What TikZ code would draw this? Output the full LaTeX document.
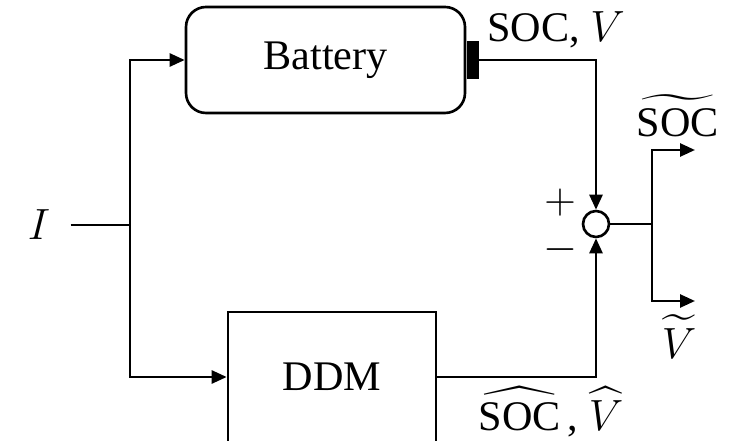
\documentclass[tikz,border=0pt]{standalone}
\usepackage{amsmath}
\usepackage{yhmath}
\usepackage{fontspec}
\setmainfont{Liberation Serif}
\usetikzlibrary{shapes.geometric, arrows.meta}
\tikzstyle{cell} = [
    rectangle,
    rounded corners=0.4cm,
    minimum width=5.58cm,
    minimum height=2.12cm,
    line width=1.5pt,
    draw=black
]
\tikzstyle{block} = [
    rectangle,
    minimum width=4.16cm,
    minimum height=2.6cm,
    line width=1.5pt,
    draw=black
]
\tikzstyle{pole} = [
    rectangle,
    fill=black,
    minimum width=0.24cm,
    minimum height=0.76cm,
    inner sep=0pt
]
\tikzstyle{junction} = [
    circle,
    minimum size=0.52cm,
    inner sep=0pt,
    line width=1.5pt,
    draw=black
]
\tikzstyle{sig} = [inner sep=0pt]
\tikzstyle{wire} = [line width=1.5pt]
\tikzstyle{arrow} = [line width=1.5pt,-{Triangle[length=0.3cm,width=0.26cm]}]

\begin{document}
\begin{tikzpicture}[every node/.style={font=\fontsize{24}{28}\selectfont}]
\useasboundingbox (0,0) rectangle (14.66,8.8);

\node (battery) [cell] at (6.51,7.6) {Battery};

\node (terminal) [pole, anchor=west] at (battery.east) {};

\node (ddm) [block] at (6.64,1.26) {DDM};

\node (sum) [junction] at (11.92,4.32) {};

\node (input) [sig] at (0.78,4.3) {$I$};

\node (measured) [sig, anchor=west] at (9.74,8.2) {SOC, $V$};
\node (estimated) [sig] at (11.02,0.56) {$\widehat{\mathrm{SOC}}\,$, $\widehat{V}$};
\node (errsoc) [sig] at (13.56,6.5) {$\widetilde{\mathrm{SOC}}$};
\node (errv) [sig] at (13.58,2.06) {$\widetilde{V}$};
\node (plus) [sig] at (11.2,4.74) {$+$};
\node (minus) [sig] at (11.2,3.8) {$-$};

\coordinate (split) at (2.6,4.3);
\coordinate (branch) at (13.04,4.32);
\coordinate (socout) at (13.9,5.8);
\coordinate (vout) at (13.9,2.78);

\draw [wire] ([xshift=0.4cm]input.east) -- (split);
\draw [arrow] (split) |- (battery.west);
\draw [arrow] (split) |- (ddm.west);
\draw [arrow] (terminal.east) -| (sum.north);
\draw [arrow] (ddm.east) -| (sum.south);
\draw [wire] (sum.east) -- (branch);
\draw [arrow] (branch) |- (socout);
\draw [arrow] (branch) |- (vout);

\end{tikzpicture}
\end{document}
